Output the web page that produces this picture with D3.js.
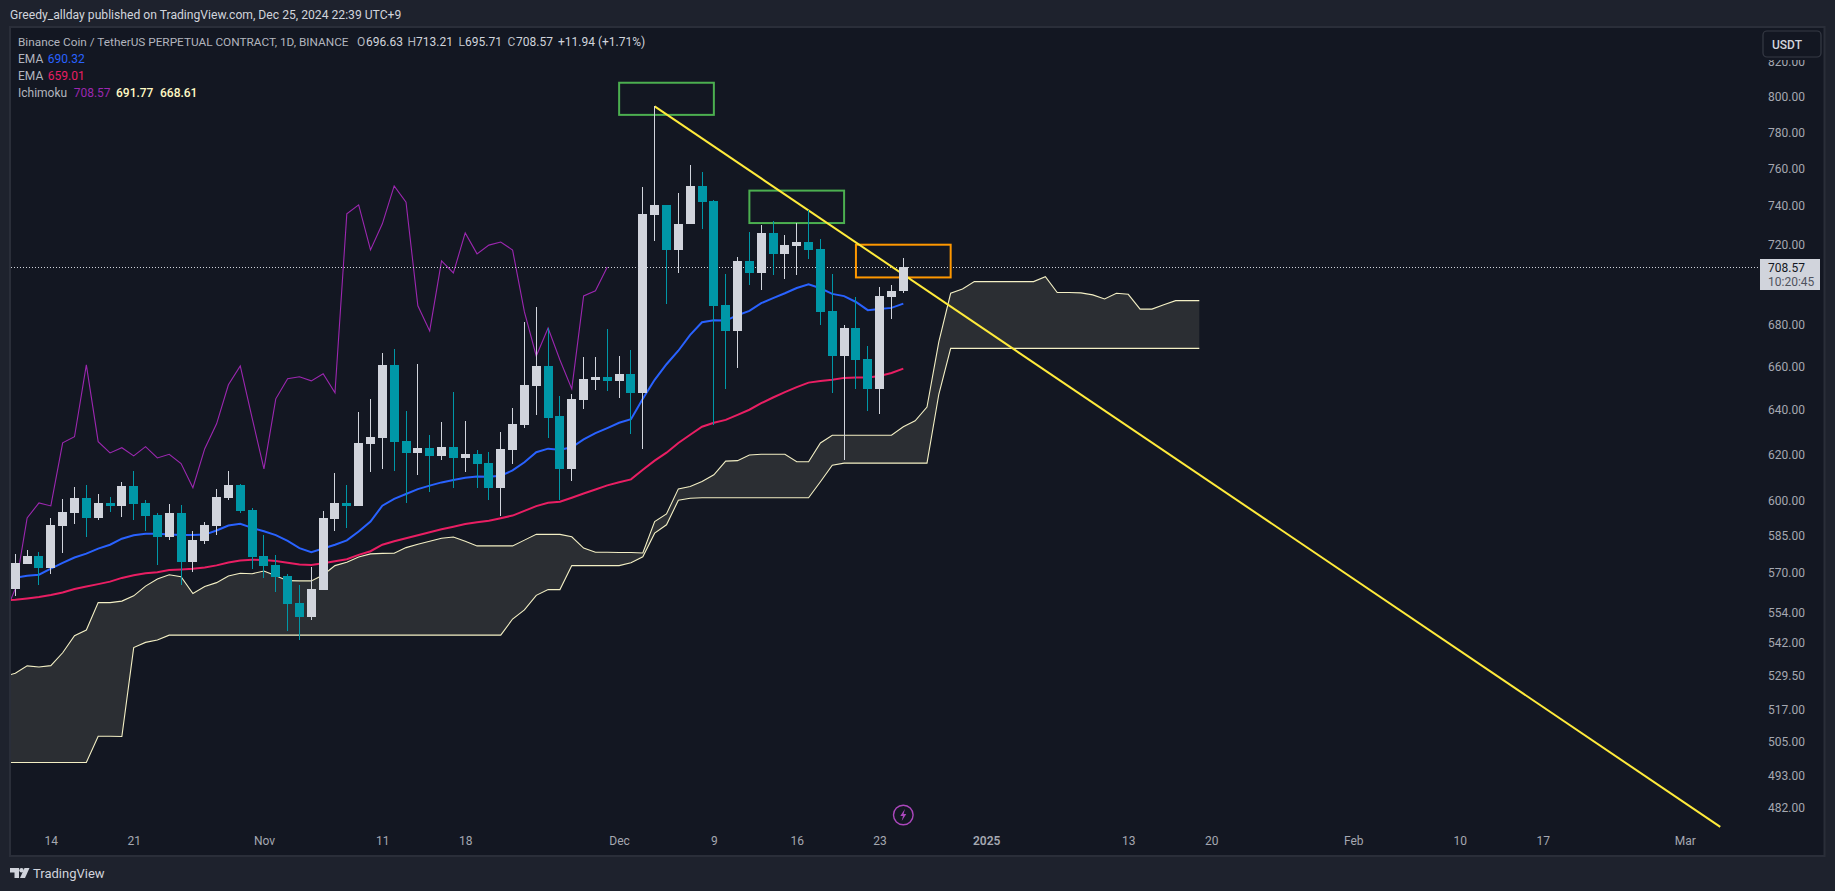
<!DOCTYPE html>
<html>
<head>
<meta charset="utf-8">
<title>BNBUSDT.P 1D</title>
<script src="https://cdn.jsdelivr.net/npm/d3@7"></script>
<style>
html, body { margin: 0; padding: 0; background: #1e222d; overflow: hidden; }
svg { display: block; font-family: Roboto, "Noto Sans", sans-serif; }
</style>
</head>
<body>
<svg id="chart" width="1835" height="891"></svg>
<script>
// ── Data ──────────────────────────────────────────────────────────────────
const firstDay = new Date(Date.UTC(2024, 9, 11));   // first candle
const indicatorStart = new Date(Date.UTC(2024, 9, 10)); // indicators run in from the left edge

const opens = [563.3,573.4,576.7,571.8,589.1,594.6,601,592.5,598.9,597.6,606.3,598.9,593.8,584.5,594.6,574.2,582.9,589.1,601,606.7,
    596,576.7,573,568.5,557.8,552.1,562.9,592.1,598.9,597.6,624.6,627.4,660.8,626,620.6,622.9,619.3,623.4,618.4,620,
    616.2,605.4,622,633.2,651,660.3,637.2,613.6,644.5,653.8,655.2,653.3,656.6,647.8,735.4,740.6,717.2,730.7,750.7,742.7,
    689.7,677,711.6,705.6,726,715.2,719.2,721.3,717.7,686.7,665,678.4,663.6,649.6,693.6,696.63];
const highs = [577.5,579.2,578.3,592.5,600.6,605.8,606.7,602.7,601.4,608,612.7,600.1,594.6,598.4,598,587,590.9,604.9,612.7,607.1,
    596.7,585.3,577.1,569.3,564.9,572.2,595.5,611.9,606.7,639,645,666.5,668.4,639.5,661.2,628.7,634.5,648.1,635,622,
    621,630,640.8,681.3,688.7,678.4,646.4,647.3,664.5,664.5,678,664.9,667.9,750.2,794.5,740.6,747,762,758.2,743.2,
    705.1,713.7,726.5,730.2,732.3,724.9,731.2,738,722.9,705.1,679.9,693.6,669.8,698.5,699.5,713.21];
const lows = [560.5,573.4,564.9,569.3,577.9,590,584.5,591.7,595.1,592.9,591.7,587,573,583.3,564.9,570.1,581.6,585.3,600.1,594.6,
    571.4,567.7,562.1,546.6,543.1,551,562.9,587.2,588.3,597.6,612.3,613.6,612.7,598.9,611,603.6,617.5,605.4,612.3,605.4,
    600.1,593.4,615.9,631.9,637.7,627.4,600.1,608.4,640.4,649.2,648.7,645.5,629.2,622.4,721.8,690.2,705.6,730.7,728.1,633.2,
    649.6,659.4,699.5,697.1,704.6,702.5,704.6,712.7,679.9,647.8,617.5,649.6,639.5,638.1,682.8,695.71];
const closes = [573.8,576.7,571.8,589.6,595.1,601,592.5,598.9,597.6,606.3,598.4,593.4,584.5,594.6,574.2,583.3,589.6,601.4,606.7,595.5,
    576.3,572.6,568.1,557.3,552.1,563.3,592.5,598.9,597.6,625.1,627.8,660.8,625.6,620.6,622.9,619.3,623.4,618.4,620,615.9,
    605.4,622.5,633.6,651.5,660.3,636.3,613.6,645,654.3,655.2,653.3,656.6,647.8,735.9,740.6,717.2,730.7,750.7,742.1,689.2,
    677,711.6,705.6,726,715.2,719.7,721.3,717.2,686.2,665,678.4,663.1,649.6,694.1,696.6,708.57];

// these start one day before the first candle
const emaFast = [567.5,567.8,568.6,569,571.5,573.8,576,577.6,579.7,581.3,583.8,585.2,585.9,585.9,585.5,585.3,585.3,585.5,587.2,589.3,
    590,588.3,586.9,585.3,582.9,579.9,578.2,579.7,581.3,583.1,586.8,591,597.7,600.6,602.7,604.8,606.3,607.7,608.7,609.7,
    610.3,610.1,610.6,612.9,616.5,620.9,622.5,622,623.1,626.6,629.4,631.7,634.1,635.7,645,653.8,661.1,667.5,675.1,681.2,
    682.2,682,684.6,686.7,690.5,693,695.4,698,699.9,697.9,695.1,694,691.1,687.1,687.6,688.2,690.32];
const emaSlow = [558.6,558.9,559.4,560,560.8,561.8,563.2,564.2,565.2,566.2,567.7,568.8,569.6,570,570.9,571.1,571.4,571.9,572.8,574,
    574.8,575.1,575,574.6,573.9,573.2,573,573.7,574.5,575.3,577.1,578.6,581.3,582.7,584,585.2,586.5,587.7,588.8,589.9,
    590.7,591.3,592.4,593.5,595.5,597.5,598.9,599.4,601.1,602.9,604.6,606.4,607.8,609,613.2,617.2,620.7,625,628.7,632.3,
    634.1,635.4,637.7,640,643,645.6,648.1,650.4,652.5,653.3,653.8,654.7,654.9,654.9,655.6,657,659.01];
const laggingSpan = [552.1,563.3,592.5,598.9,597.6,625.1,627.8,660.8,625.6,620.6,622.9,619.3,623.4,618.4,620,615.9,605.4,622.5,633.6,651.5,
    660.3,636.3,613.6,645,654.3,655.2,653.3,656.6,647.8,735.9,740.6,717.2,730.7,750.7,742.1,689.2,677,711.6,705.6,726,
    715.2,719.7,721.3,717.2,686.2,665,678.4,663.1,649.6,694.1,696.6,708.57];
const spanA = [529.1,530.4,533.2,532.8,533.3,538.2,544.8,547,557.8,557.8,558.4,560.5,564.4,567.3,569,568.2,561.4,564.2,565.8,568.5,
    569.6,569.4,570.5,568.6,566.6,566.5,566.5,568.9,572.7,574.1,576.2,577.5,577.7,577.8,580.1,581.5,582.7,584,584.5,582.7,
    580.8,580.8,580.8,580.8,583.2,585.6,585.6,585.6,584.6,579.9,578.2,578.2,578.1,578.1,577.9,591,594.2,604.9,605.9,608.1,
    611,617,617.2,619.7,620,620,620,616.7,616.7,625,628.5,628.5,628.5,628.5,628.5,628.5,632.3,635,641.2,671.7,
    695.4,697.5,701.2,701.2,701.2,701.2,701.2,701.2,703.7,695.8,695.8,695.6,694.6,692.6,695.4,694.9,687.6,687.6,689.7,691.77,
    691.77,691.77];
const spanB = [497.7,497.7,497.7,497.7,497.7,497.7,497.7,497.7,507.1,507.1,507,540.2,542.2,543.1,545,545,545,545,545,545,
    545,545,545,545,545,545,545,545,545,545,545,545,545,545,545,545,545,545,545,545,
    545,545,545,551.3,554.9,560.7,563,563,572.7,572.7,572.7,572.7,572.7,573.9,576.3,586.1,589.6,600,600.9,601.1,
    601.1,601.1,601.1,601.1,601.1,601.1,601.1,601.1,601.1,608,615.2,616.1,616.1,616.1,616.1,616.1,616.1,616.1,616.1,647.1,
    668.61,668.61,668.61,668.61,668.61,668.61,668.61,668.61,668.61,668.61,668.61,668.61,668.61,668.61,668.61,668.61,668.61,668.61,668.61,668.61,
    668.61,668.61];

// hand drawn things on the chart
const trendDates = [new Date(Date.UTC(2024, 11, 4)), new Date(Date.UTC(2025, 2, 4))];
const trendPrices = [794.5, 475.4];
const boxDates = [[new Date(Date.UTC(2024, 11, 1)), new Date(Date.UTC(2024, 11, 9))],
    [new Date(Date.UTC(2024, 11, 12)), new Date(Date.UTC(2024, 11, 20))],
    [new Date(Date.UTC(2024, 11, 21)), new Date(Date.UTC(2024, 11, 29))]];
const boxPrices = [[808, 789.7], [748.2, 731.1], [719.9, 703.3]];
const boxColors = ['#4caf50', '#4caf50', '#ff9800'];

const priceTicks = [820, 800, 780, 760, 740, 720, 680, 660, 640, 620, 600, 585, 570, 554, 542, 529.5, 517, 505, 493, 482];
const timeTicks = [[2024,9,14],[2024,9,21],[2024,10,1],[2024,10,11],[2024,10,18],[2024,11,1],[2024,11,9],[2024,11,16],[2024,11,23],
    [2025,0,1],[2025,0,13],[2025,0,20],[2025,1,1],[2025,1,10],[2025,1,17],[2025,2,1]].map(d => new Date(Date.UTC(d[0], d[1], d[2])));
const timeLabels = ['14','21','Nov','11','18','Dec','9','16','23','2025','13','20','Feb','10','17','Mar'];

const lastPrice = 708.57;

// ── Colours ───────────────────────────────────────────────────────────────
const UP = '#d1d4dc', DOWN = '#0097a7', BLUE = '#2962ff', PINK = '#e91e63', PURPLE = '#9c27b0',
    CLOUD_LINE = '#f3efc4', CLOUD_FILL = '#2b2e33', TEXT = '#d1d4dc', AXIS_TEXT = '#a5a8b1';

// ── Scales ────────────────────────────────────────────────────────────────
const x = d3.scaleUtc()
    .domain([firstDay, new Date(Date.UTC(2024, 11, 25))])
    .range([15.3, 903.3]);
const y = d3.scaleLog()
    .domain([800, 482])
    .range([96.7, 807.5]);

const candleDays = closes.map((c, i) => d3.utcDay.offset(firstDay, i));
const indicatorDay = i => d3.utcDay.offset(indicatorStart, i);

const svg = d3.select('#chart');

// ── Frame ─────────────────────────────────────────────────────────────────
svg.append('rect').attr('width', 1835).attr('height', 891).attr('fill', '#1e222d');
svg.append('rect').attr('x', 10).attr('y', 27).attr('width', 1814.5).attr('height', 829)
    .attr('fill', '#131722').attr('stroke', '#2a2e39').attr('stroke-width', 2);

svg.append('clipPath').attr('id', 'pane').append('rect')
    .attr('x', 11).attr('y', 28).attr('width', 1749).attr('height', 800);
const pane = svg.append('g').attr('clip-path', 'url(#pane)');

// ── Ichimoku cloud ────────────────────────────────────────────────────────
pane.append('path')
    .attr('fill', CLOUD_FILL)
    .attr('d', d3.area()
        .x((d, i) => x(indicatorDay(i)))
        .y0((d, i) => y(spanB[i]))
        .y1(d => y(d))(spanA));

const line = d3.line().x((d, i) => x(indicatorDay(i))).y(d => y(d));

[spanA, spanB].forEach(s => {
    pane.append('path').attr('d', line(s)).attr('fill', 'none')
        .attr('stroke', CLOUD_LINE).attr('stroke-width', 1.1);
});
pane.append('path').attr('d', line(laggingSpan)).attr('fill', 'none')
    .attr('stroke', PURPLE).attr('stroke-width', 1.1);

// last price line
pane.append('line')
    .attr('x1', 11).attr('x2', 1758)
    .attr('y1', Math.round(y(lastPrice)) + 0.5).attr('y2', Math.round(y(lastPrice)) + 0.5)
    .attr('stroke', UP).attr('stroke-width', 1).attr('stroke-dasharray', '1 2');

// ── EMAs ──────────────────────────────────────────────────────────────────
[[emaFast, BLUE], [emaSlow, PINK]].forEach(e => {
    pane.append('path').attr('d', line(e[0])).attr('fill', 'none')
        .attr('stroke', e[1]).attr('stroke-width', 2);
});

// ── Drawings ──────────────────────────────────────────────────────────────
pane.selectAll('rect.box').data(boxDates).enter().append('rect')
    .attr('class', 'box')
    .attr('x', d => x(d[0]))
    .attr('width', d => x(d[1]) - x(d[0]))
    .attr('y', (d, i) => y(boxPrices[i][0]))
    .attr('height', (d, i) => y(boxPrices[i][1]) - y(boxPrices[i][0]))
    .attr('fill', 'none')
    .attr('stroke', (d, i) => boxColors[i])
    .attr('stroke-width', 2);

pane.append('line')
    .attr('x1', x(trendDates[0])).attr('y1', y(trendPrices[0]))
    .attr('x2', x(trendDates[1])).attr('y2', y(trendPrices[1]))
    .attr('stroke', '#ffeb3b').attr('stroke-width', 2);

// ── Candles ───────────────────────────────────────────────────────────────
const candle = pane.selectAll('g.candle').data(candleDays).enter().append('g')
    .attr('class', 'candle')
    .attr('shape-rendering', 'crispEdges')
    .attr('fill', (d, i) => closes[i] >= opens[i] ? UP : DOWN);
candle.append('rect')
    .attr('x', d => Math.round(x(d) - 0.5))
    .attr('width', 1)
    .attr('y', (d, i) => y(highs[i]))
    .attr('height', (d, i) => y(lows[i]) - y(highs[i]));
candle.append('rect')
    .attr('x', d => Math.round(x(d) - 4.5))
    .attr('width', 9)
    .attr('y', (d, i) => y(Math.max(opens[i], closes[i])))
    .attr('height', (d, i) => Math.max(1, Math.abs(y(opens[i]) - y(closes[i]))));

// ── Axes ──────────────────────────────────────────────────────────────────
const priceAxis = svg.append('g')
    .attr('transform', 'translate(1768,0)')
    .call(d3.axisRight(y).tickValues(priceTicks).tickFormat(d3.format('.2f')).tickSize(0).tickPadding(0));
priceAxis.select('.domain').remove();
priceAxis.selectAll('text').attr('fill', AXIS_TEXT).attr('font-size', 12).attr('font-family', 'Roboto');

const timeAxis = svg.append('g')
    .attr('transform', 'translate(0,836)')
    .call(d3.axisBottom(x).tickValues(timeTicks).tickFormat((d, i) => timeLabels[i]).tickSize(0).tickPadding(0));
timeAxis.select('.domain').remove();
timeAxis.selectAll('text').attr('fill', AXIS_TEXT).attr('font-size', 12).attr('font-family', 'Roboto')
    .attr('font-weight', (d, i) => timeLabels[i] == '2025' ? 600 : 400);

// ── Price scale widgets ───────────────────────────────────────────────────
svg.append('rect').attr('x', 1762).attr('y', 31).attr('width', 59).attr('height', 29).attr('fill', '#131722');
svg.append('rect').attr('x', 1763).attr('y', 31).attr('width', 58).attr('height', 26).attr('rx', 4)
    .attr('fill', '#131722').attr('stroke', '#363a45').attr('stroke-width', 1.2);

function label(parent, px, py, str, fill, size, weight) {
    return parent.append('text')
        .attr('x', px).attr('y', py)
        .attr('dy', '.35em')
        .attr('fill', fill)
        .attr('font-size', size || 12)
        .attr('font-weight', weight || 400)
        .text(str);
}

label(svg, 1772, 44.5, 'USDT', TEXT, 12, 500);

svg.append('rect').attr('x', 1760).attr('y', 259).attr('width', 60).attr('height', 31).attr('fill', UP);
label(svg, 1768, 267.5, '708.57', '#131722', 12);
label(svg, 1768, 281.5, '10:20:45', '#50535e', 12);

// ── Header and legend ─────────────────────────────────────────────────────
label(svg, 10, 15, 'Greedy_allday published on TradingView.com, Dec 25, 2024 22:39 UTC+9', TEXT, 12.15);

label(svg, 18, 42, 'Binance Coin / TetherUS PERPETUAL CONTRACT, 1D, BINANCE', '#b2b5be', 11.8);
[[357, 'O'], [407.6, 'H'], [458.5, 'L'], [507.6, 'C']].forEach(d => label(svg, d[0], 42, d[1], '#b2b5be', 12));
[[366, '696.63'], [416, '713.21'], [465, '695.71'], [516, '708.57'], [558, '+11.94 (+1.71%)']]
    .forEach(d => label(svg, d[0], 42, d[1], TEXT, 12));

label(svg, 18, 59, 'EMA', '#b2b5be', 12);
label(svg, 47.8, 59, '690.32', BLUE, 12);
label(svg, 18, 76, 'EMA', '#b2b5be', 12);
label(svg, 47.8, 76, '659.01', PINK, 12);
label(svg, 18, 92.7, 'Ichimoku', '#b2b5be', 12);
label(svg, 73.7, 92.7, '708.57', PURPLE, 12);
label(svg, 116, 92.7, '691.77', '#fff9c4', 12, 500);
label(svg, 160, 92.7, '668.61', '#fff9c4', 12, 500);

// ── Bolt marker on the time axis ──────────────────────────────────────────
const bolt = svg.append('g').attr('transform', 'translate(' + x(new Date(Date.UTC(2024, 11, 25))) + ',815)');
bolt.append('circle').attr('r', 9.8).attr('fill', 'none').attr('stroke', '#ab47bc').attr('stroke-width', 1.4);
bolt.append('path').attr('d', 'M1.6,-6 L-3,1 H-0.3 L-1.6,6 L3,-1 H0.3 Z').attr('fill', '#ab47bc');

// ── Logo ──────────────────────────────────────────────────────────────────
const logo = svg.append('g').attr('fill', TEXT);
logo.append('path').attr('d', 'M10 868 H19 V878 H14.5 V872.5 H10 Z');
logo.append('circle').attr('cx', 21.5).attr('cy', 870.3).attr('r', 2.2);
logo.append('path').attr('d', 'M24.5 868 H29.5 L25 878 H20 Z');
label(svg, 33, 873, 'TradingView', TEXT, 13, 400);
</script>
</body>
</html>
